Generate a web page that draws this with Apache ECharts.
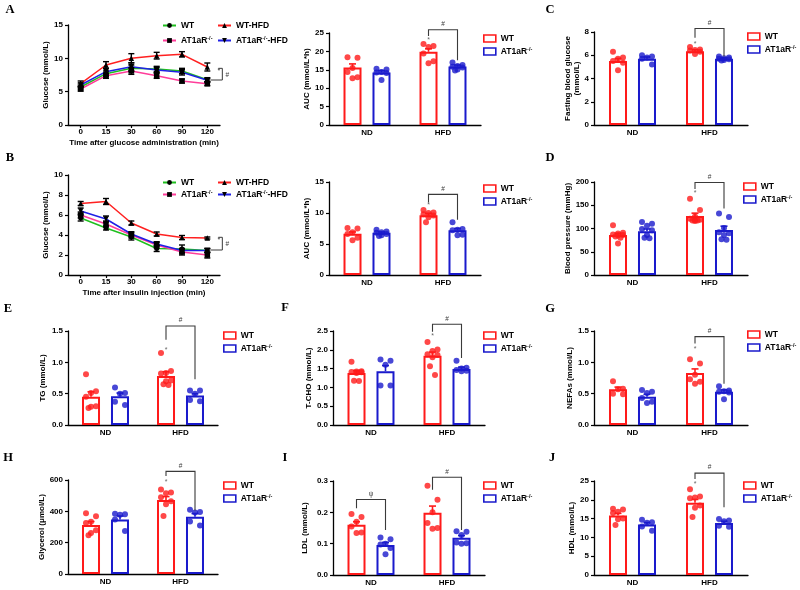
<!DOCTYPE html>
<html><head><meta charset="utf-8">
<script src="https://cdn.jsdelivr.net/npm/echarts@6/dist/echarts.min.js"></script>
<style>html,body{margin:0;padding:0;background:#fff}#c{width:800px;height:590px}</style>
</head><body><div id="c"></div>
<script>
// ================= DATA =================
const TIME_CATS = ['0', '15', '30', '60', '90', '120'];
const GROUP_CATS = ['ND', 'HFD'];

// A: glucose tolerance test (mean, SEM)
const ogtt_WT      = [5.7, 7.7, 8.5, 8.4, 8.1, 6.8];
const ogtt_WT_sem  = [0.3, 0.4, 0.5, 0.4, 0.4, 0.3];
const ogtt_KO      = [5.4, 7.4, 8.1, 7.4, 6.6, 6.2];
const ogtt_KO_sem  = [0.3, 0.4, 0.5, 0.4, 0.3, 0.3];
const ogtt_WTH     = [6.2, 9.0, 10.0, 10.4, 10.6, 8.7];
const ogtt_WTH_sem = [0.4, 0.5, 0.7, 0.5, 0.4, 0.6];
const ogtt_KOH     = [6.0, 8.0, 8.75, 8.25, 7.9, 6.7];
const ogtt_KOH_sem = [0.3, 0.5, 0.6, 0.4, 0.4, 0.3];
const ogtt_yTicks  = [0, 15, 5];
const ogtt_sig     = [8.5, 6.75];

// B: insulin tolerance test
const itt_WT      = [5.7, 4.7, 3.8, 2.65, 2.6, 2.45];
const itt_WT_sem  = [0.3, 0.2, 0.3, 0.3, 0.4, 0.2];
const itt_KO      = [6.0, 5.1, 4.0, 3.0, 2.3, 2.0];
const itt_KO_sem  = [0.3, 0.3, 0.3, 0.3, 0.3, 0.3];
const itt_WTH     = [7.15, 7.35, 5.2, 4.1, 3.75, 3.7];
const itt_WTH_sem = [0.2, 0.3, 0.2, 0.2, 0.2, 0.1];
const itt_KOH     = [6.4, 5.6, 4.1, 3.1, 2.45, 2.45];
const itt_KOH_sem = [0.3, 0.3, 0.2, 0.2, 0.2, 0.2];
const itt_yTicks  = [0, 10, 2];
const itt_sig     = [3.77, 2.5];

// AUC of GTT
const aucG_WT_mean = [15.6, 19.9], aucG_WT_sem = [1.0, 0.8];
const aucG_KO_mean = [14.3, 15.9], aucG_KO_sem = [0.5, 0.4];
const aucG_WT_pts = [[18.4, 18.3, 15.5, 14.4, 13.0, 12.7], [22.0, 21.5, 21.2, 19.4, 17.3, 16.8]];
const aucG_KO_pts = [[15.3, 15.1, 14.4, 14.3, 14.1, 12.2], [17.0, 16.3, 16.0, 15.8, 15.6, 15.1, 14.8]];
const aucG_yTicks = [0, 25, 5];
const aucG_sig = [[1, 25.9, 24.2, 17.6]], aucG_sigMark = ['#'], aucG_star = 23.0;

// AUC of ITT
const aucI_WT_mean = [6.65, 9.65], aucI_WT_sem = [0.3, 0.3];
const aucI_KO_mean = [6.8, 7.2], aucI_KO_sem = [0.15, 0.3];
const aucI_WT_pts = [[7.6, 7.5, 6.9, 6.6, 6.0, 5.6], [10.5, 10.1, 10.0, 9.8, 9.6, 9.3, 8.5]];
const aucI_KO_pts = [[7.3, 7.0, 6.9, 6.8, 6.6, 6.4, 6.3], [8.5, 7.4, 7.3, 7.2, 6.5, 6.4]];
const aucI_yTicks = [0, 15, 5];
const aucI_sig = [[1, 13.0, 11.7, 8.9]], aucI_sigMark = ['#'], aucI_star = 11.3;

// C: fasting blood glucose
const fbg_WT_mean = [5.5, 6.35], fbg_WT_sem = [0.22, 0.12];
const fbg_KO_mean = [5.7, 5.7], fbg_KO_sem = [0.15, 0.08];
const fbg_WT_pts = [[6.3, 5.8, 5.7, 5.5, 5.35, 4.7], [6.7, 6.5, 6.45, 6.4, 6.3, 6.1]];
const fbg_KO_pts = [[6.0, 5.9, 5.8, 5.7, 5.2], [5.9, 5.8, 5.75, 5.7, 5.65, 5.6, 5.55]];
const fbg_yTicks = [0, 8, 2];
const fbg_sig = [[1, 8.3, 7.5, 5.9]], fbg_sigMark = ['#'], fbg_star = 7.0;

// D: blood pressure
const bp_WT_mean = [86, 127], bp_WT_sem = [4, 6];
const bp_KO_mean = [94, 97], bp_KO_sem = [5, 8];
const bp_WT_pts = [[107, 91, 89, 87, 86, 85, 83, 80, 68], [164, 140, 126, 121, 119, 118, 117, 117, 116]];
const bp_KO_pts = [[114, 110, 106, 99, 96, 86, 80, 79], [132, 125, 101, 92, 90, 86, 77, 76]];
const bp_yTicks = [0, 200, 50];
const bp_sig = [[1, 199, 185, 143]], bp_sigMark = ['#'], bp_star = 177;

// E: TG
const tg_WT_mean = [0.45, 0.78], tg_WT_sem = [0.08, 0.07];
const tg_KO_mean = [0.46, 0.47], tg_KO_sem = [0.05, 0.03];
const tg_WT_pts = [[0.81, 0.54, 0.51, 0.45, 0.30, 0.29, 0.27], [1.15, 0.86, 0.83, 0.82, 0.71, 0.70, 0.65, 0.64]];
const tg_KO_pts = [[0.60, 0.51, 0.50, 0.37, 0.32], [0.55, 0.55, 0.50, 0.40, 0.38]];
const tg_yTicks = [0, 1.5, 0.5];
const tg_sig = [[1, 1.58, 1.36, 0.73]], tg_sigMark = ['#'], tg_star = 1.2;

// F: T-CHO
const tc_WT_mean = [1.38, 1.84], tc_WT_sem = [0.07, 0.1];
const tc_KO_mean = [1.43, 1.49], tc_KO_sem = [0.15, 0.05];
const tc_WT_pts = [[1.68, 1.43, 1.42, 1.41, 1.40, 1.38, 1.18, 1.17], [2.21, 2.01, 1.97, 1.88, 1.86, 1.80, 1.56, 1.33]];
const tc_KO_pts = [[1.74, 1.71, 1.60, 1.05, 1.05], [1.71, 1.52, 1.50, 1.46, 1.44, 1.43]];
const tc_yTicks = [0, 2.5, 0.5];
const tc_sig = [[1, 2.68, 2.48, 1.78]], tc_sigMark = ['#'], tc_star = 2.37;

// G: NEFAs
const nefa_WT_mean = [0.57, 0.83], nefa_WT_sem = [0.035, 0.065];
const nefa_KO_mean = [0.45, 0.53], nefa_KO_sem = [0.04, 0.03];
const nefa_WT_pts = [[0.70, 0.58, 0.57, 0.50, 0.49], [1.05, 0.98, 0.80, 0.73, 0.69, 0.66]];
const nefa_KO_pts = [[0.56, 0.53, 0.51, 0.43, 0.37, 0.35], [0.62, 0.55, 0.54, 0.53, 0.52, 0.41]];
const nefa_yTicks = [0, 1.5, 0.5];
const nefa_sig = [[1, 1.41, 1.3, 0.66]], nefa_sigMark = ['#'], nefa_star = 1.21;

// H: glycerol
const gly_WT_mean = [313, 472], gly_WT_sem = [22, 22];
const gly_KO_mean = [348, 366], gly_KO_sem = [22, 20];
const gly_WT_pts = [[388, 368, 334, 325, 280, 262, 248], [540, 520, 515, 490, 465, 445, 370]];
const gly_KO_pts = [[385, 382, 378, 348, 275], [410, 395, 392, 335, 310]];
const gly_yTicks = [0, 600, 200];
const gly_sig = [[1, 655, 625, 405]], gly_sigMark = ['#'], gly_star = 585;

// I: LDL
const ldl_WT_mean = [0.160, 0.199], ldl_WT_sem = [0.010, 0.021];
const ldl_KO_mean = [0.096, 0.119], ldl_KO_sem = [0.008, 0.007];
const ldl_WT_pts = [[0.195, 0.185, 0.170, 0.155, 0.136, 0.134], [0.285, 0.240, 0.200, 0.166, 0.150, 0.148]];
const ldl_KO_pts = [[0.120, 0.114, 0.100, 0.097, 0.086, 0.066], [0.140, 0.138, 0.128, 0.104, 0.101, 0.100]];
const ldl_yTicks = [0, 0.3, 0.1];
const ldl_sig = [[0, 0.241, 0.213, 0.144], [1, 0.312, 0.272, 0.144]], ldl_sigMark = ['ψ', '#'], ldl_star = null;

// J: HDL
const hdl_WT_mean = [15.8, 19.2], hdl_WT_sem = [0.6, 0.9];
const hdl_KO_mean = [13.4, 13.8], hdl_KO_sem = [0.55, 0.5];
const hdl_WT_pts = [[17.6, 17.4, 16.8, 16.5, 15.0, 14.8, 13.3], [22.8, 20.9, 20.6, 20.4, 18.5, 17.9, 15.4]];
const hdl_KO_pts = [[14.7, 14.0, 13.9, 12.9, 11.8], [14.9, 14.5, 14.3, 13.1, 12.8]];
const hdl_yTicks = [0, 25, 5];
const hdl_sig = [[1, 27.1, 25.5, 18.0]], hdl_sigMark = ['#'], hdl_star = 24.2;

// ================= STYLE / LAYOUT =================
const F = 'Liberation Sans';
const RED = '#ff1a1a', BLUE = '#1a1acc';
const LC = { 'L-WT': '#1fbf1f', 'L-KO': '#ff3d9a', 'L-WTH': '#ff2020', 'L-KOH': '#2020e6' };
const LSYM = { 'L-WT': 'circle', 'L-KO': 'rect', 'L-WTH': 'triangle', 'L-KOH': 'path://M0,0L10,0L5,9Z' };
const LEG_TEXT = {
  'WT': 'WT', 'AT1aR-/-': 'AT1aR{sup|-/-}',
  'L-WT': 'WT', 'L-KO': 'AT1aR{sup|-/-}', 'L-WTH': 'WT-HFD', 'L-KOH': 'AT1aR{sup|-/-}-HFD'
};
const BAR_W = 18, OFF = 14.5;
const JIT = [-5, 5, 0, -5, 5, 0, -2.5, 2.5, 0];
const SIGC = '#3a3a3a';

const opt = { animation: false, backgroundColor: '#fff', grid: [], xAxis: [], yAxis: [], legend: [], series: [], graphic: [] };

const txt = (size) => ({ color: '#000', fontFamily: F, fontWeight: 'bold', fontSize: size });
const legText = () => Object.assign(txt(8.5), {
  lineHeight: 11,
  rich: { sup: { fontFamily: F, fontWeight: 'bold', fontSize: 5.5, color: '#000', verticalAlign: 'top', lineHeight: 11 } }
});
const axLine = { show: true, lineStyle: { color: '#000', width: 1.3 } };

function letter(t, x, y) {
  opt.graphic.push({ type: 'text', x: x, y: y, style: { text: t, fontFamily: 'Liberation Serif', fontWeight: 'bold', fontSize: 12.5, fill: '#000', align: 'center', verticalAlign: 'middle' } });
}

function yAxisDef(gi, ticks, dec, name, gap) {
  return {
    type: 'value', gridIndex: gi, min: ticks[0], max: ticks[1], interval: ticks[2],
    axisLine: axLine, axisTick: { show: true, length: 3, lineStyle: { color: '#000', width: 1.2 } },
    axisLabel: Object.assign(txt(8), { margin: 5, formatter: v => v.toFixed(dec) }),
    splitLine: { show: false },
    name: name, nameLocation: 'middle', nameRotate: 90, nameGap: gap,
    nameTextStyle: Object.assign(txt(8), { lineHeight: 8.5 })
  };
}

function linePanel(L, d) {
  const gi = opt.grid.length;
  opt.grid.push({ left: L.left, top: L.top, width: L.width, height: L.height });
  opt.xAxis.push({
    type: 'category', gridIndex: gi, data: TIME_CATS, boundaryGap: true,
    axisLine: axLine, axisTick: { show: true, alignWithLabel: true, length: 3, lineStyle: { color: '#000', width: 1.2 } },
    axisLabel: Object.assign(txt(8), { margin: 3 }),
    name: d.xName, nameLocation: 'middle', nameGap: L.xNameGap, nameTextStyle: txt(8)
  });
  opt.yAxis.push(yAxisDef(gi, d.yTicks, 0, 'Glucose (mmol/L)', L.yNameGap));
  d.series.forEach(s => {
    opt.series.push({
      type: 'line', name: s.name, xAxisIndex: gi, yAxisIndex: gi, data: s.values,
      symbol: LSYM[s.name], symbolSize: s.name === 'L-WT' ? 5 : 5.5, showAllSymbol: true,
      lineStyle: { color: LC[s.name], width: 1.5 }, itemStyle: { color: '#000' }, z: 3, silent: true
    });
    opt.series.push({
      type: 'custom', name: 'err', xAxisIndex: gi, yAxisIndex: gi, silent: true, z: 4, clip: false,
      data: s.values.map((v, i) => [i, v, s.sem[i]]),
      renderItem: (p, api) => {
        const a = api.coord([api.value(0), api.value(1) + api.value(2)]);
        const b = api.coord([api.value(0), api.value(1) - api.value(2)]);
        const st = { stroke: '#000', lineWidth: 1.4 };
        return { type: 'group', children: [
          { type: 'line', shape: { x1: a[0], y1: a[1], x2: b[0], y2: b[1] }, style: st },
          { type: 'line', shape: { x1: a[0] - 3, y1: a[1], x2: a[0] + 3, y2: a[1] }, style: st },
          { type: 'line', shape: { x1: b[0] - 3, y1: b[1], x2: b[0] + 3, y2: b[1] }, style: st }
        ] };
      }
    });
  });
  // significance marks at the last time point
  opt.series.push({
    type: 'custom', name: 'sig', xAxisIndex: gi, yAxisIndex: gi, silent: true, z: 5, clip: false,
    data: [[TIME_CATS.length - 1, d.sig[0], d.sig[1]]],
    renderItem: (p, api) => {
      const t = api.coord([api.value(0), api.value(1)]);
      const b = api.coord([api.value(0), api.value(2)]);
      const x = t[0], st = { stroke: SIGC, lineWidth: 1 };
      return { type: 'group', children: [
        { type: 'polyline', shape: { points: [[x + 11, t[1]], [x + 15, t[1]], [x + 15, b[1]], [x + 3, b[1]]] }, style: Object.assign({ fill: null }, st) },
        { type: 'text', x: x + 11.5, y: t[1] + 3, style: Object.assign({ text: '*', align: 'center', verticalAlign: 'middle', fill: SIGC, fontFamily: F, fontSize: 7 }) },
        { type: 'text', x: x + 20, y: (t[1] + b[1]) / 2 + 1, style: Object.assign({ text: '#', align: 'center', verticalAlign: 'middle', fill: SIGC, fontFamily: F, fontSize: 6.5 }) }
      ] };
    }
  });
  [[['L-WT', 'L-KO'], L.leg1], [['L-WTH', 'L-KOH'], L.leg2]].forEach(([names, pos]) => {
    opt.legend.push({
      data: names, orient: 'vertical', left: pos[0], top: pos[1], itemGap: pos[2], padding: 0,
      itemWidth: 13, itemHeight: 6, selectedMode: false,
      formatter: n => LEG_TEXT[n], textStyle: legText()
    });
  });
}

function barPanel(L, d) {
  const gi = opt.grid.length;
  opt.grid.push({ left: L.left, top: L.top, width: L.width, height: L.height });
  opt.xAxis.push({
    type: 'category', gridIndex: gi, data: GROUP_CATS, boundaryGap: true,
    axisLine: axLine, axisTick: { show: false },
    axisLabel: Object.assign(txt(8), { margin: 4 })
  });
  opt.yAxis.push(yAxisDef(gi, d.yTicks, d.dec, d.name, L.nameGap));
  const common = { xAxisIndex: gi, yAxisIndex: gi, silent: true };
  opt.series.push(Object.assign({ type: 'bar', name: 'WT', data: d.wtMean, barWidth: BAR_W, barGap: '61%',
    itemStyle: { color: '#fff', borderColor: RED, borderWidth: 2 }, z: 2 }, common));
  opt.series.push(Object.assign({ type: 'bar', name: 'AT1aR-/-', data: d.koMean, barWidth: BAR_W, barGap: '61%',
    itemStyle: { color: '#fff', borderColor: BLUE, borderWidth: 2 }, z: 2 }, common));
  [[d.wtPts, -OFF, RED], [d.koPts, OFF, BLUE]].forEach(([pts, off, col]) => {
    const items = [];
    pts.forEach((arr, c) => arr.forEach((v, k) => items.push({ value: [c, v], symbolOffset: [off + JIT[k % JIT.length], 0] })));
    opt.series.push(Object.assign({ type: 'scatter', name: 'pts', data: items, symbolSize: 6,
      itemStyle: { color: col }, z: 3 }, common));
  });
  [[d.wtMean, d.wtSem, -OFF, RED], [d.koMean, d.koSem, OFF, BLUE]].forEach(([m, s, off, col]) => {
    opt.series.push(Object.assign({ type: 'custom', name: 'err', z: 4, clip: false,
      data: m.map((v, i) => [i, v, s[i]]),
      renderItem: (p, api) => {
        const a = api.coord([api.value(0), api.value(1)]);
        const b = api.coord([api.value(0), api.value(1) + api.value(2)]);
        const x = a[0] + off, st = { stroke: col, lineWidth: 1.6 };
        return { type: 'group', children: [
          { type: 'line', shape: { x1: x, y1: a[1], x2: x, y2: b[1] }, style: st },
          { type: 'line', shape: { x1: x - 3.5, y1: b[1], x2: x + 3.5, y2: b[1] }, style: st }
        ] };
      } }, common));
  });
  opt.series.push(Object.assign({ type: 'custom', name: 'sig', z: 5, clip: false,
    data: d.sig,
    renderItem: (p, api) => {
      const t = api.coord([api.value(0), api.value(1)]);
      const yl = api.coord([api.value(0), api.value(2)])[1];
      const yr = api.coord([api.value(0), api.value(3)])[1];
      const xl = t[0] - OFF, xr = t[0] + OFF;
      return { type: 'group', children: [
        { type: 'polyline', shape: { points: [[xl, yl], [xl, t[1]], [xr, t[1]], [xr, yr]] }, style: { stroke: SIGC, lineWidth: 1.1, fill: null } },
        { type: 'text', x: t[0], y: t[1] - 2, style: { text: d.sigMark[p.dataIndex], align: 'center', verticalAlign: 'bottom', fill: SIGC, fontFamily: F, fontSize: 6.5 } }
      ] };
    } }, common));
  if (d.star !== null) {
    opt.series.push(Object.assign({ type: 'custom', name: 'star', z: 5, clip: false,
      data: [[1, d.star]],
      renderItem: (p, api) => {
        const t = api.coord([api.value(0), api.value(1)]);
        return { type: 'text', x: t[0] - OFF, y: t[1], style: { text: '*', align: 'center', verticalAlign: 'middle', fill: '#666', fontFamily: F, fontSize: 7 } };
      } }, common));
  }
  opt.legend.push({
    data: ['WT', 'AT1aR-/-'], orient: 'vertical', left: L.leg[0], top: L.leg[1], itemGap: L.leg[2], padding: 0,
    itemWidth: 12, itemHeight: 7, selectedMode: false, icon: 'rect',
    itemStyle: { borderWidth: 1.6 },
    formatter: n => LEG_TEXT[n], textStyle: legText()
  });
}

// ================= BUILD =================
linePanel({ left: 68, top: 25, width: 152, height: 100, yNameGap: 11, xNameGap: 14, leg1: [162, 20, 4], leg2: [217, 20, 4] }, {
  xName: 'Time after glucose administration (min)', yTicks: ogtt_yTicks, sig: ogtt_sig,
  series: [
    { name: 'L-WT', values: ogtt_WT, sem: ogtt_WT_sem },
    { name: 'L-KO', values: ogtt_KO, sem: ogtt_KO_sem },
    { name: 'L-WTH', values: ogtt_WTH, sem: ogtt_WTH_sem },
    { name: 'L-KOH', values: ogtt_KOH, sem: ogtt_KOH_sem }
  ]
});
linePanel({ left: 68, top: 175, width: 152, height: 100, yNameGap: 11, xNameGap: 14, leg1: [162, 177, 1], leg2: [217, 177, 1] }, {
  xName: 'Time after insulin injection (min)', yTicks: itt_yTicks, sig: itt_sig,
  series: [
    { name: 'L-WT', values: itt_WT, sem: itt_WT_sem },
    { name: 'L-KO', values: itt_KO, sem: itt_KO_sem },
    { name: 'L-WTH', values: itt_WTH, sem: itt_WTH_sem },
    { name: 'L-KOH', values: itt_KOH, sem: itt_KOH_sem }
  ]
});

barPanel({ left: 329, top: 33, width: 152, height: 92, nameGap: 13, leg: [483, 33, 2] }, {
  name: 'AUC (mmol/L*h)', yTicks: aucG_yTicks, dec: 0, wtMean: aucG_WT_mean, wtSem: aucG_WT_sem, koMean: aucG_KO_mean, koSem: aucG_KO_sem,
  wtPts: aucG_WT_pts, koPts: aucG_KO_pts, sig: aucG_sig, sigMark: aucG_sigMark, star: aucG_star });
barPanel({ left: 594, top: 32, width: 154, height: 93, nameGap: 13, leg: [747, 31, 2] }, {
  name: 'Fasting blood glucose\n(mmol/L)', yTicks: fbg_yTicks, dec: 0, wtMean: fbg_WT_mean, wtSem: fbg_WT_sem, koMean: fbg_KO_mean, koSem: fbg_KO_sem,
  wtPts: fbg_WT_pts, koPts: fbg_KO_pts, sig: fbg_sig, sigMark: fbg_sigMark, star: fbg_star });
barPanel({ left: 329, top: 182, width: 152, height: 93, nameGap: 13, leg: [483, 183, 2] }, {
  name: 'AUC (mmol/L*h)', yTicks: aucI_yTicks, dec: 0, wtMean: aucI_WT_mean, wtSem: aucI_WT_sem, koMean: aucI_KO_mean, koSem: aucI_KO_sem,
  wtPts: aucI_WT_pts, koPts: aucI_KO_pts, sig: aucI_sig, sigMark: aucI_sigMark, star: aucI_star });
barPanel({ left: 594, top: 182, width: 154, height: 93, nameGap: 20, leg: [743, 181, 2] }, {
  name: 'Blood pressure (mmHg)', yTicks: bp_yTicks, dec: 0, wtMean: bp_WT_mean, wtSem: bp_WT_sem, koMean: bp_KO_mean, koSem: bp_KO_sem,
  wtPts: bp_WT_pts, koPts: bp_KO_pts, sig: bp_sig, sigMark: bp_sigMark, star: bp_star });
barPanel({ left: 68, top: 331, width: 150, height: 94, nameGap: 21, leg: [223, 330, 2] }, {
  name: 'TG (mmol/L)', yTicks: tg_yTicks, dec: 1, wtMean: tg_WT_mean, wtSem: tg_WT_sem, koMean: tg_KO_mean, koSem: tg_KO_sem,
  wtPts: tg_WT_pts, koPts: tg_KO_pts, sig: tg_sig, sigMark: tg_sigMark, star: tg_star });
barPanel({ left: 333, top: 331, width: 152, height: 94, nameGap: 19, leg: [483, 330, 2] }, {
  name: 'T-CHO (mmol/L)', yTicks: tc_yTicks, dec: 1, wtMean: tc_WT_mean, wtSem: tc_WT_sem, koMean: tc_KO_mean, koSem: tc_KO_sem,
  wtPts: tc_WT_pts, koPts: tc_KO_pts, sig: tc_sig, sigMark: tc_sigMark, star: tc_star });
barPanel({ left: 594, top: 331, width: 154, height: 94, nameGap: 17, leg: [747, 329, 2] }, {
  name: 'NEFAs (mmol/L)', yTicks: nefa_yTicks, dec: 1, wtMean: nefa_WT_mean, wtSem: nefa_WT_sem, koMean: nefa_KO_mean, koSem: nefa_KO_sem,
  wtPts: nefa_WT_pts, koPts: nefa_KO_pts, sig: nefa_sig, sigMark: nefa_sigMark, star: nefa_star });
barPanel({ left: 68, top: 480, width: 150, height: 94, nameGap: 21, leg: [223, 480, 2] }, {
  name: 'Glycerol (μmol/L)', yTicks: gly_yTicks, dec: 0, wtMean: gly_WT_mean, wtSem: gly_WT_sem, koMean: gly_KO_mean, koSem: gly_KO_sem,
  wtPts: gly_WT_pts, koPts: gly_KO_pts, sig: gly_sig, sigMark: gly_sigMark, star: gly_star });
barPanel({ left: 333, top: 481, width: 152, height: 94, nameGap: 24, leg: [483, 480, 2] }, {
  name: 'LDL (mmol/L)', yTicks: ldl_yTicks, dec: 1, wtMean: ldl_WT_mean, wtSem: ldl_WT_sem, koMean: ldl_KO_mean, koSem: ldl_KO_sem,
  wtPts: ldl_WT_pts, koPts: ldl_KO_pts, sig: ldl_sig, sigMark: ldl_sigMark, star: ldl_star });
barPanel({ left: 594, top: 481, width: 154, height: 94, nameGap: 17, leg: [743, 480, 2] }, {
  name: 'HDL (mmol/L)', yTicks: hdl_yTicks, dec: 0, wtMean: hdl_WT_mean, wtSem: hdl_WT_sem, koMean: hdl_KO_mean, koSem: hdl_KO_sem,
  wtPts: hdl_WT_pts, koPts: hdl_KO_pts, sig: hdl_sig, sigMark: hdl_sigMark, star: hdl_star });

letter('A', 10, 10); letter('B', 10, 158); letter('C', 550, 10); letter('D', 550, 158);
letter('E', 8, 309); letter('F', 285, 308); letter('G', 550, 309);
letter('H', 8, 458); letter('I', 285, 458); letter('J', 552, 458);

const chart = echarts.init(document.getElementById('c'), null, { renderer: 'canvas' });
chart.setOption(opt);
</script>
</body></html>
